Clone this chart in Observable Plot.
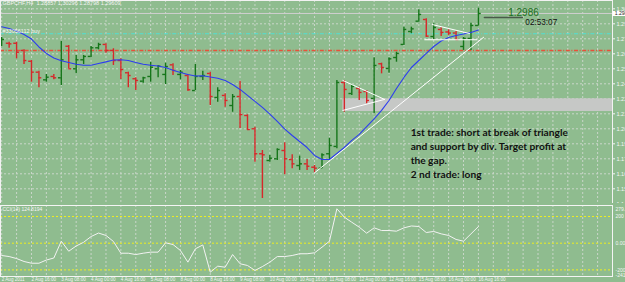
<!DOCTYPE html>
<html>
<head>
<meta charset="utf-8">
<script src="https://cdn.jsdelivr.net/npm/d3@7"></script>
<script src="https://cdn.jsdelivr.net/npm/@observablehq/plot@0.6"></script>
<style>
html,body{margin:0;padding:0;background:#8fbc8f;width:625px;height:282px;overflow:hidden;}
#wrap{position:relative;width:625px;height:282px;}
#main{position:absolute;left:0;top:0;}
#ind{position:absolute;left:0;top:203px;}
svg{display:block;}
</style>
</head>
<body>
<div id="wrap"><div id="main"></div><div id="ind"></div></div>
<script>
// ---- data (GBPCHF H4, 2-16 Aug 2011) ----
const dateLabels = ["2 Aug 2011","2 Aug 16:00","3 Aug 08:00","4 Aug 00:00","4 Aug 16:00","5 Aug 08:00","8 Aug 00:00","8 Aug 16:00","9 Aug 08:00","10 Aug 00:00","10 Aug 16:00","11 Aug 08:00","12 Aug 00:00","12 Aug 16:00","15 Aug 08:00","16 Aug 00:00","16 Aug 16:00"];
const dateIndex = [0,4,8,12,16,20,24,28,32,36,40,44,48,52,56,60,64];

const open  = [1.2736,1.2738,1.2738,1.2678,1.2588,1.2497,1.2433,1.2461,1.2450,1.2713,1.2525,1.2600,1.2628,1.2700,1.2728,1.2678,1.2594,1.2492,1.2442,1.2422,1.2461,1.2525,1.2478,1.2558,1.2478,1.2469,1.2344,1.2461,1.2486,1.2286,1.2303,1.2219,1.2294,1.2136,1.2025,1.1817,1.1761,1.1775,1.1844,1.1769,1.1719,1.1733,1.1705,1.1697,1.1817,1.1878,1.2411,1.2319,1.2361,1.2336,1.2278,1.2567,1.2528,1.2619,1.2728,1.2836,1.2922,1.2936,1.2794,1.2853,1.2832,1.2823,1.2711,1.2778,1.2886];
const high  = [1.2786,1.2747,1.2747,1.2683,1.2594,1.2505,1.2478,1.2478,1.2755,1.2719,1.2636,1.2636,1.2711,1.2738,1.2733,1.2692,1.2608,1.2497,1.2450,1.2455,1.2580,1.2553,1.2572,1.2567,1.2511,1.2478,1.2561,1.2505,1.2497,1.2367,1.2317,1.2311,1.2422,1.2142,1.2038,1.1844,1.1803,1.1858,1.1908,1.1808,1.1797,1.1769,1.1719,1.1817,1.1947,1.2428,1.2428,1.2394,1.2372,1.2344,1.2617,1.2572,1.2617,1.2663,1.2872,1.2872,1.3017,1.2942,1.2900,1.2867,1.2850,1.2838,1.2788,1.2905,1.3030];
const low   = [1.2711,1.2697,1.2608,1.2561,1.2413,1.2367,1.2413,1.2433,1.2386,1.2525,1.2483,1.2561,1.2617,1.2683,1.2655,1.2553,1.2436,1.2367,1.2344,1.2405,1.2413,1.2450,1.2394,1.2469,1.2433,1.2338,1.2344,1.2428,1.2219,1.2247,1.2205,1.2163,1.2028,1.2011,1.1747,1.1444,1.1747,1.1761,1.1642,1.1692,1.1678,1.1678,1.1658,1.1692,1.1761,1.1858,1.2163,1.2303,1.2261,1.2233,1.2150,1.2483,1.2488,1.2580,1.2719,1.2817,1.2913,1.2788,1.2767,1.2794,1.2803,1.2761,1.2678,1.2678,1.2880];
const close = [1.2769,1.2733,1.2663,1.2594,1.2497,1.2450,1.2455,1.2450,1.2600,1.2525,1.2600,1.2628,1.2700,1.2728,1.2678,1.2594,1.2519,1.2469,1.2428,1.2450,1.2538,1.2547,1.2544,1.2511,1.2497,1.2350,1.2461,1.2469,1.2294,1.2344,1.2261,1.2294,1.2144,1.2019,1.1817,1.1808,1.1780,1.1853,1.1775,1.1733,1.1733,1.1713,1.1697,1.1808,1.1886,1.2411,1.2353,1.2378,1.2328,1.2261,1.2553,1.2536,1.2608,1.2653,1.2853,1.2858,1.2978,1.2797,1.2869,1.2828,1.2823,1.2769,1.2778,1.2886,1.2986];
const movingAvg = [1.2875,1.2861,1.2840,1.2811,1.2773,1.2707,1.2653,1.2615,1.2592,1.2578,1.2563,1.2555,1.2555,1.2569,1.2583,1.2598,1.2600,1.2594,1.2578,1.2563,1.2555,1.2548,1.2536,1.2513,1.2494,1.2478,1.2465,1.2467,1.2457,1.2446,1.2428,1.2394,1.2353,1.2303,1.2253,1.2203,1.2148,1.2086,1.2023,1.1969,1.1919,1.1869,1.1803,1.1769,1.1769,1.1819,1.1869,1.1928,1.1978,1.2044,1.2107,1.2178,1.2261,1.2361,1.2453,1.2536,1.2594,1.2653,1.2711,1.2757,1.2786,1.2803,1.2815,1.2828,1.2848];
const cciValues = [-92,-100,-115,-137,-150,-150,-126,-111,15,-60,-21,7,50,76,58,13,-75,-75,-85,-75,-67,-67,3,-10,-55,-142,-42,-13,-217,-172,-180,-85,-154,-167,-204,-175,-142,-100,-100,-92,-79,-79,-72,-30,15,258,195,157,120,75,115,95,95,90,115,129,125,80,88,70,58,28,15,70,125];

const priceTicks = [1.3025,1.2900,1.2775,1.2650,1.2525,1.2400,1.2275,1.2150,1.2025,1.1900,1.1775,1.1650,1.1525,1.1400];
const cciLevels = [200, 0, -200];
const cciAxisLabels = [{v: 200, t: "200"}, {v: 0, t: "0.00"}, {v: -200, t: "-200"}];
const cciMax = 279.4, cciMin = -241.5;

const bidPrice = 1.2986;
const pendingBuy = 1.2817;
const redLevel = 1.2678;
const headerText = "GBPCHF,H4  1.28857 1.30296 1.28798 1.29609";
const orderText = "#33056112 buy";
const cciText = "CCI(14) 124.8194";
const noteText = "1st trade: short at break of triangle\nand support by div. Target profit at\nthe gap.\n2 nd trade: long";
const timerText = "02:53:07";

// drawn objects (bar index, price)
const gapZone = [{i1: 45.8, i2: 82, p1: 1.2169, p2: 1.2275}];
const drawnLines = [
  {seg: "trend", i: 42.0, p: 1.1658}, {seg: "trend", i: 64.7, p: 1.2788},
  {seg: "triA1", i: 45.8, p: 1.2428}, {seg: "triA1", i: 51.4, p: 1.2270},
  {seg: "triA2", i: 45.8, p: 1.2178}, {seg: "triA2", i: 51.4, p: 1.2270},
  {seg: "triB1", i: 57.8, p: 1.2894}, {seg: "triB1", i: 62.8, p: 1.2819},
  {seg: "triB2", i: 56.8, p: 1.2767}, {seg: "triB2", i: 63.8, p: 1.2767}
];
const priceTag = [{i: 64.8, p: 1.2953}, {i: 69.9, p: 1.2953}];

// ---- scales shared ----
const xDomain = [-0.16, 82];
const gridIdx = d3.range(0, 83, 2);
const bars = open.map((o, i) => ({i, open: o, high: high[i], low: low[i], close: close[i], ma: movingAvg[i], up: close[i] >= o}));
const upColor = "#16761a", downColor = "#d6282a";
const col = d => d.up ? upColor : downColor;
const font = "'Liberation Sans', Arial, sans-serif";
const gridStroke = "#c9d6c9";

const main = Plot.plot({
  width: 625, height: 204,
  marginLeft: 0, marginRight: 13, marginTop: 0, marginBottom: 1,
  x: {domain: xDomain, axis: null},
  y: {domain: [1.14025, 1.30942], axis: null},
  style: {background: "#8fbc8f", color: "#f4f4f4", fontFamily: font},
  marks: [
    Plot.ruleY(priceTicks, {stroke: gridStroke, strokeDasharray: "2,2"}),
    Plot.ruleX(gridIdx, {stroke: gridStroke, strokeDasharray: "2,2"}),
    Plot.rect(gapZone, {x1: "i1", x2: "i2", y1: "p1", y2: "p2", fill: "#c6c8c6"}),
    Plot.ruleY([bidPrice], {stroke: "#cfcfcf"}),
    Plot.ruleY([redLevel], {stroke: "#e8503a", strokeWidth: 1.6, strokeDasharray: "4,1.6,1,1.6"}),
    Plot.ruleY([pendingBuy], {stroke: "#4fe0d4", strokeDasharray: "4,1.6,1,1.6"}),
    Plot.ruleX(bars, {x: "i", y1: "low", y2: "high", stroke: col, strokeWidth: 1.4}),
    Plot.ruleY(bars, {y: "open", x1: d => d.i - 0.38, x2: "i", stroke: col, strokeWidth: 1.4}),
    Plot.ruleY(bars, {y: "close", x1: "i", x2: d => d.i + 0.38, stroke: col, strokeWidth: 1.4}),
    Plot.line(bars, {x: "i", y: "ma", stroke: "#2d3cf0", strokeWidth: 1.1}),
    Plot.line(drawnLines, {x: "i", y: "p", z: "seg", stroke: "#ffffff", strokeWidth: 1}),
    Plot.line(priceTag, {x: "i", y: "p", stroke: "#4a5a4a", strokeWidth: 1.5}),
    Plot.frame({stroke: "#f2f2f2"}),
    Plot.axisY(priceTicks, {anchor: "right", tickFormat: d => d.toFixed(4), tickSize: 2, tickPadding: 2, fontSize: 5.5, color: "#f4f4f4"}),
    Plot.ruleY([bidPrice], {x1: 82.05, x2: 84.2, stroke: "#ffffff", strokeWidth: 5}),
    Plot.text([bidPrice], {x: 82.3, y: d => d, text: d => d.toFixed(4), textAnchor: "start", fontSize: 5, fill: "#222"}),
    Plot.text([headerText], {frameAnchor: "top-left", dx: 2, dy: 1, fontSize: 5.5, fill: "#f4f4f4", lineAnchor: "top"}),
    Plot.text([orderText], {x: xDomain[0], y: pendingBuy, dx: 2, dy: -3, textAnchor: "start", fontSize: 5.5, fill: "#f4f4f4"}),
    Plot.text([bidPrice], {x: 68.0, y: d => d, dy: -0.5, text: d => d.toFixed(4), textAnchor: "start", fontSize: 10, fill: "#1f6e1f"}),
    Plot.text([timerText], {x: 70.3, y: bidPrice, dy: 8.5, textAnchor: "start", fontSize: 8.2, fill: "#111"}),
    Plot.text([noteText], {x: 54.9, y: 1.2050, textAnchor: "start", lineAnchor: "top", lineHeight: 1.38, fontSize: 10.2, fontWeight: "bold", fill: "#111", fontFamily: "Lato, sans-serif"})
  ]
});
document.getElementById("main").appendChild(main);

const ind = Plot.plot({
  width: 625, height: 79,
  marginLeft: 0, marginRight: 13, marginTop: 2, marginBottom: 6,
  x: {domain: xDomain, axis: null},
  y: {domain: [-249.4, 282.4], axis: null},
  style: {background: "#8fbc8f", color: "#f4f4f4", fontFamily: font},
  marks: [
    Plot.ruleX(gridIdx, {stroke: gridStroke, strokeDasharray: "2,2"}),
    Plot.ruleY(cciLevels, {stroke: "#eeee20", strokeDasharray: "2,2"}),
    Plot.line(cciValues, {x: (d, i) => i, y: d => d, stroke: "#f2f2f2", strokeWidth: 1}),
    Plot.frame({stroke: "#f4f4f4"}),
    Plot.text(cciAxisLabels, {x: xDomain[1], y: "v", text: "t", dx: 3, textAnchor: "start", fontSize: 5, fill: "#f4f4f4"}),
    Plot.text([cciMax], {x: xDomain[1], y: d => d, text: d => d.toFixed(4), dx: 3, dy: 1.5, lineAnchor: "top", textAnchor: "start", fontSize: 5, fill: "#f4f4f4"}),
    Plot.text([cciMin], {x: xDomain[1], y: d => d, text: d => d.toFixed(4), dx: 3, dy: 2, lineAnchor: "bottom", textAnchor: "start", fontSize: 5, fill: "#f4f4f4"}),
    Plot.text([cciText], {frameAnchor: "top-left", dx: 2, dy: 2, lineAnchor: "top", fontSize: 5, fill: "#f4f4f4"}),
    Plot.text(dateIndex, {x: d => d, text: (d, i) => dateLabels[i], frameAnchor: "bottom", lineAnchor: "top", dy: 1.5, textAnchor: "start", fontSize: 4.6, fill: "#f4f4f4"})
  ]
});
document.getElementById("ind").appendChild(ind);
</script>
</body>
</html>
